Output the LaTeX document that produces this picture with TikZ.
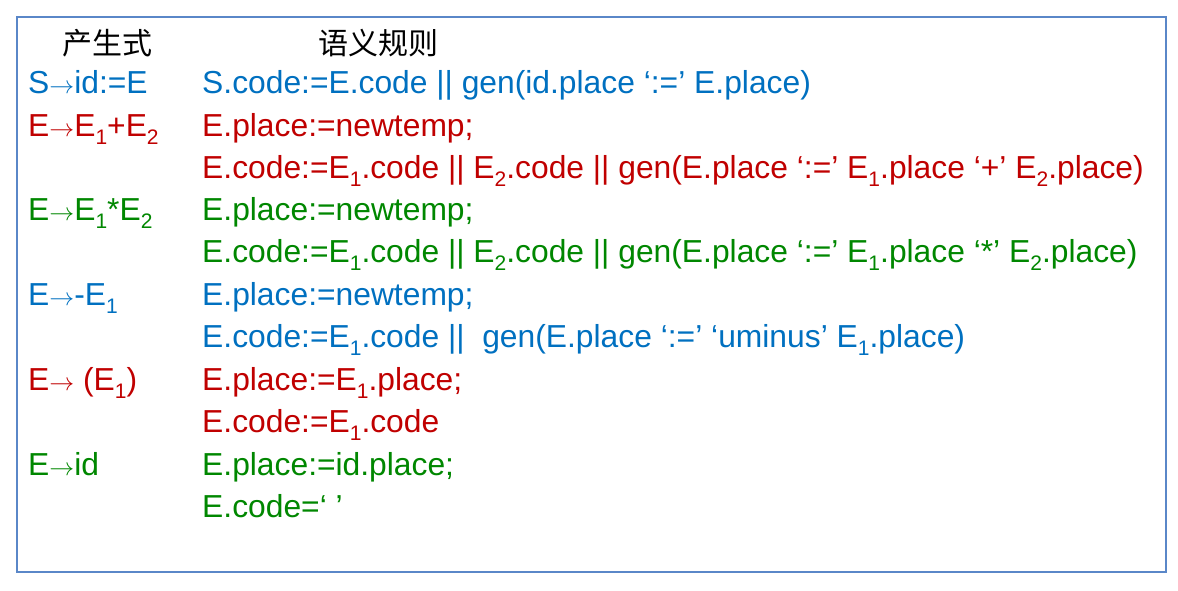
\documentclass[tikz,border=0pt]{standalone}
\usepackage{fontspec}
\setmainfont{Liberation Sans}
\newfontfamily\cjk{Noto Sans CJK SC}
\definecolor{cb}{RGB}{0,112,192}
\definecolor{cr}{RGB}{192,0,0}
\definecolor{cg}{RGB}{0,135,0}
\definecolor{frame}{RGB}{90,135,200}
\newcommand{\sbs}[1]{\raisebox{-0.28em}{\fontsize{21}{21}\selectfont #1}}
\newcommand{\ar}{\ensuremath{\rightarrow}}
\begin{document}
\begin{tikzpicture}[x=1pt,y=-1pt,
  t/.style={anchor=base west,inner sep=0pt,font=\fontsize{31.8}{32}\selectfont}]
\useasboundingbox (0,0) rectangle (1178,590);
\draw[frame,line width=1.6pt] (17,17) rectangle (1166,572);
\node[t,font=\fontsize{30}{30}\selectfont\cjk] (h1) at (62,54) {产生式};
\node[t,font=\fontsize{30}{30}\selectfont\cjk] (h2) at (318,54) {语义规则};
\node[t,cb] (p1) at (28,93) {S\ar id:=E};
\node[t,cb] (r1) at (202,93) {S.code:=E.code || gen(id.place ‘:=’ E.place)};
\node[t,cr] (p2) at (28,136) {E\ar E\sbs{1}+E\sbs{2}};
\node[t,cr] (r2a) at (202,136) {E.place:=newtemp;};
\node[t,cr] (r2b) at (202,178) {E.code:=E\sbs{1}.code || E\sbs{2}.code || gen(E.place ‘:=’ E\sbs{1}.place ‘+’ E\sbs{2}.place)};
\node[t,cg] (p3) at (28,220) {E\ar E\sbs{1}*E\sbs{2}};
\node[t,cg] (r3a) at (202,220) {E.place:=newtemp;};
\node[t,cg] (r3b) at (202,262) {E.code:=E\sbs{1}.code || E\sbs{2}.code || gen(E.place ‘:=’ E\sbs{1}.place ‘*’ E\sbs{2}.place)};
\node[t,cb] (p4) at (28,305) {E\ar -E\sbs{1}};
\node[t,cb] (r4a) at (202,305) {E.place:=newtemp;};
\node[t,cb] (r4b) at (202,347) {E.code:=E\sbs{1}.code ||\ \ gen(E.place ‘:=’ ‘uminus’ E\sbs{1}.place)};
\node[t,cr] (p5) at (28,390) {E\ar\ (E\sbs{1})};
\node[t,cr] (r5a) at (202,390) {E.place:=E\sbs{1}.place;};
\node[t,cr] (r5b) at (202,432) {E.code:=E\sbs{1}.code};
\node[t,cg] (p6) at (28,475) {E\ar id};
\node[t,cg] (r6a) at (202,475) {E.place:=id.place;};
\node[t,cg] (r6b) at (202,517) {E.code=‘ ’};
\end{tikzpicture}
\end{document}
